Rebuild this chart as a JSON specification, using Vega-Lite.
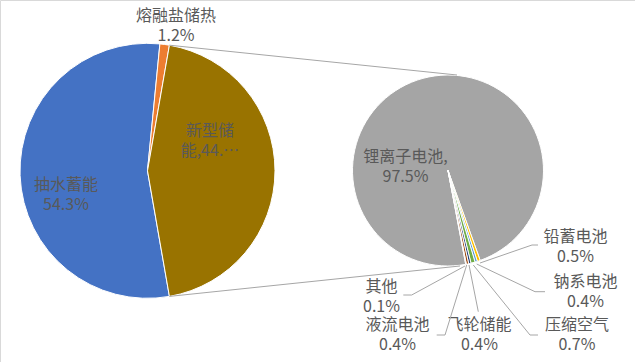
{
"$schema":"https://vega.github.io/schema/vega-lite/v6.json",
"width":635,"height":362,"padding":0,"autosize":{"type":"none"},
"background":"#FFFFFF",
"config":{"view":{"stroke":"#D9D9D9","strokeWidth":1}},
"datasets":{"storage":[
{"pie":"储能结构","category":"抽水蓄能","value":54.3,"order":1,"label":"抽水蓄能\n54.3%"},
{"pie":"储能结构","category":"熔融盐储热","value":1.2,"order":2,"label":"熔融盐储热\n1.2%"},
{"pie":"储能结构","category":"新型储能","value":44.5,"order":3,"label":"新型储\n能,44.…"},
{"pie":"新型储能","category":"锂离子电池","value":97.5,"order":1,"label":"锂离子电池,\n97.5%"},
{"pie":"新型储能","category":"铅蓄电池","value":0.5,"order":2,"label":"铅蓄电池\n0.5%"},
{"pie":"新型储能","category":"钠系电池","value":0.4,"order":3,"label":"钠系电池\n0.4%"},
{"pie":"新型储能","category":"压缩空气","value":0.7,"order":4,"label":"压缩空气\n0.7%"},
{"pie":"新型储能","category":"飞轮储能","value":0.4,"order":5,"label":"飞轮储能\n0.4%"},
{"pie":"新型储能","category":"液流电池","value":0.4,"order":6,"label":"液流电池\n0.4%"},
{"pie":"新型储能","category":"其他","value":0.1,"order":7,"label":"其他\n0.1%"}
]},
"layer":[
{
"data":{"name":"storage"},
"transform":[{"filter":"datum.pie === '储能结构'"}],
"encoding":{
"x":{"datum":147.5,"type":"quantitative","scale":{"domain":[0,635]},"axis":null},
"y":{"datum":170.8,"type":"quantitative","scale":{"domain":[0,362],"reverse":true},"axis":null},
"theta":{"field":"value","type":"quantitative","stack":true,"scale":{"range":[2.9688,9.2520]}},
"order":{"field":"order","type":"quantitative"},
"color":{"field":"category","type":"nominal","legend":null,"scale":{"domain":["抽水蓄能","熔融盐储热","锂离子电池","铅蓄电池","钠系电池","压缩空气","飞轮储能","液流电池","其他","新型储能"],"range":["#4472C4","#ED7D31","#A5A5A5","#FFC000","#5B9BD5","#70AD47","#264478","#9E480E","#636363","#997300"]}}
},
"layer":[
{"mark":{"type":"arc","outerRadius":127.5,"stroke":"#FFFFFF","strokeWidth":1}},
{"mark":{"type":"text","font":"Noto Sans CJK SC","fontSize":16,"lineHeight":20,"lineBreak":"\n","align":"center","baseline":"middle",
"radius":{"expr":"datum.category==='熔融盐储热'?148:90"},
"dx":{"expr":"datum.category==='熔融盐储热'?8.6:datum.category==='新型储能'?-27.5:8.4"},
"dy":{"expr":"datum.category==='熔融盐储热'?-8.6:datum.category==='新型储能'?-40.3:10.7"}},
"encoding":{"text":{"field":"label","type":"nominal"},"color":{"value":"#595959"}}}
]
},
{
"data":{"name":"storage"},
"transform":[{"filter":"datum.pie === '新型储能'"}],
"encoding":{
"x":{"datum":448,"type":"quantitative","scale":{"domain":[0,635]},"axis":null},
"y":{"datum":170.5,"type":"quantitative","scale":{"domain":[0,362],"reverse":true},"axis":null},
"theta":{"field":"value","type":"quantitative","stack":true,"scale":{"range":[2.9549,9.2381]}},
"order":{"field":"order","type":"quantitative"},
"color":{"field":"category","type":"nominal","legend":null}
},
"layer":[
{"mark":{"type":"arc","outerRadius":95.5,"stroke":"#FFFFFF","strokeWidth":1}},
{"mark":{"type":"text","font":"Noto Sans CJK SC","fontSize":16,"lineHeight":20,"lineBreak":"\n","align":"center","baseline":"middle",
"radius":{"expr":"datum.category==='锂离子电池'?60:115"},
"dx":{"expr":"datum.category==='锂离子电池'?-26.8:datum.category==='铅蓄电池'?90.4:datum.category==='钠系电池'?103.5:datum.category==='压缩空气'?98.8:datum.category==='飞轮储能'?5.1:datum.category==='液流电池'?-74:-88.2"},
"dy":{"expr":"datum.category==='锂离子电池'?44.4:datum.category==='铅蓄电池'?-42.4:datum.category==='钠系电池'?1.6:datum.category==='压缩空气'?43.5:datum.category==='飞轮储能'?42.6:datum.category==='液流电池'?41.9:3.1"}},
"encoding":{"text":{"field":"label","type":"nominal"},"color":{"value":"#595959"}}}
]
},
{"data":{"values":[{}]},"mark":{"type":"rule","color":"#A6A6A6","strokeWidth":1},"encoding":{"x":{"datum":169.4,"type":"quantitative","scale":{"domain":[0,635]},"axis":null},"y":{"datum":45.2,"type":"quantitative","scale":{"domain":[0,362],"reverse":true},"axis":null},"x2":{"datum":457},"y2":{"datum":75}}},
{"data":{"values":[{}]},"mark":{"type":"rule","color":"#A6A6A6","strokeWidth":1},"encoding":{"x":{"datum":169.4,"type":"quantitative","scale":{"domain":[0,635]},"axis":null},"y":{"datum":296.4,"type":"quantitative","scale":{"domain":[0,362],"reverse":true},"axis":null},"x2":{"datum":460},"y2":{"datum":266}}},
{"data":{"values":[{}]},"mark":{"type":"rule","color":"#A6A6A6","strokeWidth":1},"encoding":{"x":{"datum":480,"type":"quantitative","scale":{"domain":[0,635]},"axis":null},"y":{"datum":263,"type":"quantitative","scale":{"domain":[0,362],"reverse":true},"axis":null},"x2":{"datum":532},"y2":{"datum":245}}},
{"data":{"values":[{}]},"mark":{"type":"rule","color":"#A6A6A6","strokeWidth":1},"encoding":{"x":{"datum":532,"type":"quantitative","scale":{"domain":[0,635]},"axis":null},"y":{"datum":245,"type":"quantitative","scale":{"domain":[0,362],"reverse":true},"axis":null},"x2":{"datum":538}}},
{"data":{"values":[{}]},"mark":{"type":"rule","color":"#A6A6A6","strokeWidth":1},"encoding":{"x":{"datum":476.7,"type":"quantitative","scale":{"domain":[0,635]},"axis":null},"y":{"datum":264,"type":"quantitative","scale":{"domain":[0,362],"reverse":true},"axis":null},"x2":{"datum":535},"y2":{"datum":291.7}}},
{"data":{"values":[{}]},"mark":{"type":"rule","color":"#A6A6A6","strokeWidth":1},"encoding":{"x":{"datum":535,"type":"quantitative","scale":{"domain":[0,635]},"axis":null},"y":{"datum":291.7,"type":"quantitative","scale":{"domain":[0,362],"reverse":true},"axis":null},"x2":{"datum":545}}},
{"data":{"values":[{}]},"mark":{"type":"rule","color":"#A6A6A6","strokeWidth":1},"encoding":{"x":{"datum":473.3,"type":"quantitative","scale":{"domain":[0,635]},"axis":null},"y":{"datum":265,"type":"quantitative","scale":{"domain":[0,362],"reverse":true},"axis":null},"x2":{"datum":530},"y2":{"datum":335}}},
{"data":{"values":[{}]},"mark":{"type":"rule","color":"#A6A6A6","strokeWidth":1},"encoding":{"x":{"datum":530,"type":"quantitative","scale":{"domain":[0,635]},"axis":null},"y":{"datum":335,"type":"quantitative","scale":{"domain":[0,362],"reverse":true},"axis":null},"x2":{"datum":538}}},
{"data":{"values":[{}]},"mark":{"type":"rule","color":"#A6A6A6","strokeWidth":1},"encoding":{"x":{"datum":469,"type":"quantitative","scale":{"domain":[0,635]},"axis":null},"y":{"datum":265,"type":"quantitative","scale":{"domain":[0,362],"reverse":true},"axis":null},"x2":{"datum":478.3},"y2":{"datum":311.7}}},
{"data":{"values":[{}]},"mark":{"type":"rule","color":"#A6A6A6","strokeWidth":1},"encoding":{"x":{"datum":466.7,"type":"quantitative","scale":{"domain":[0,635]},"axis":null},"y":{"datum":265,"type":"quantitative","scale":{"domain":[0,362],"reverse":true},"axis":null},"x2":{"datum":445},"y2":{"datum":335}}},
{"data":{"values":[{}]},"mark":{"type":"rule","color":"#A6A6A6","strokeWidth":1},"encoding":{"x":{"datum":445,"type":"quantitative","scale":{"domain":[0,635]},"axis":null},"y":{"datum":335,"type":"quantitative","scale":{"domain":[0,362],"reverse":true},"axis":null},"x2":{"datum":436.7}}},
{"data":{"values":[{}]},"mark":{"type":"rule","color":"#A6A6A6","strokeWidth":1},"encoding":{"x":{"datum":465,"type":"quantitative","scale":{"domain":[0,635]},"axis":null},"y":{"datum":266,"type":"quantitative","scale":{"domain":[0,362],"reverse":true},"axis":null},"x2":{"datum":411.7},"y2":{"datum":295}}},
{"data":{"values":[{}]},"mark":{"type":"rule","color":"#A6A6A6","strokeWidth":1},"encoding":{"x":{"datum":411.7,"type":"quantitative","scale":{"domain":[0,635]},"axis":null},"y":{"datum":295,"type":"quantitative","scale":{"domain":[0,362],"reverse":true},"axis":null},"x2":{"datum":403.3}}}
],
"resolve":{"scale":{"theta":"independent"}}
}
